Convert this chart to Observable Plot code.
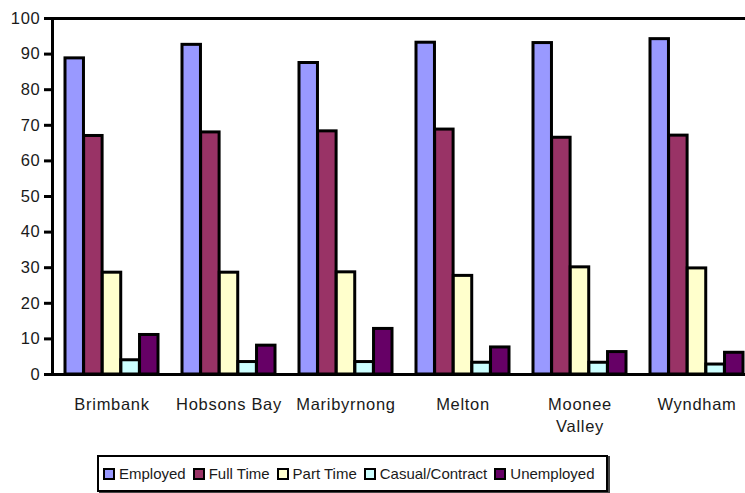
<!DOCTYPE html>
<html><head><meta charset="utf-8">
<script src="https://cdn.jsdelivr.net/npm/d3@7"></script>
<script src="https://cdn.jsdelivr.net/npm/@observablehq/plot@0.6"></script>
<style>
body{margin:0;background:#fff;font-family:"Liberation Sans",Arial,sans-serif;}
#wrap{position:relative;width:745px;height:493px;overflow:hidden;}
#legend{position:absolute;left:97px;top:455px;width:511px;height:37px;box-sizing:border-box;border:2px solid #000;box-shadow:2px 1px 0 #444;display:flex;align-items:center;padding-left:4px;font-size:15px;color:#1a1a1a;white-space:nowrap;}
.item{display:flex;align-items:center;margin-right:7px;}
.sw{width:8px;height:8px;border:2px solid #000;margin-right:4px;}
</style></head><body><div id="wrap"><div id="chart"></div><div id="legend"></div></div>
<script>
const categories = ["Brimbank","Hobsons Bay","Maribyrnong","Melton","Moonee Valley","Wyndham"];
const xLabels = ["Brimbank","Hobsons Bay","Maribyrnong","Melton","Moonee\nValley","Wyndham"];
const series = ["Employed","Full Time","Part Time","Casual/Contract","Unemployed"];
const employed   = [88.8, 92.6, 87.5, 93.2, 93.1, 94.2];
const fullTime   = [67.0, 68.0, 68.3, 68.8, 66.5, 67.1];
const partTime   = [28.6, 28.6, 28.7, 27.7, 30.1, 29.8];
const casual     = [4.0, 3.5, 3.5, 3.3, 3.3, 2.8];
const unemployed = [11.1, 8.1, 12.8, 7.6, 6.3, 6.1];
const colors = ["#9999ff","#993366","#ffffcc","#ccffff","#660066"];
const yTicks = [0,10,20,30,40,50,60,70,80,90,100];

const seriesValues = [employed, fullTime, partTime, casual, unemployed];
const rows = [];
series.forEach((s, i) => categories.forEach((c, j) => rows.push({series: s, category: c, value: seriesValues[i][j]})));

const width = 745, marginLeft = 52, marginRight = -10;
const step = (width - marginRight - marginLeft) / categories.length;
const pad = 12;
const bw = (step - 2 * pad) / series.length;

const bars = series.map((s, i) => Plot.barY(rows.filter(r => r.series === s), {
  x: "category", y: "value", fill: colors[i], stroke: "#000", strokeWidth: 3,
  insetLeft: pad + bw * i, insetRight: step - pad - bw * (i + 1)
}));

const chart = Plot.plot({
  width, height: 450,
  marginLeft, marginRight, marginTop: 18, marginBottom: 76,
  style: {fontFamily: "'Liberation Sans', Arial, sans-serif", fontSize: "16.5px", letterSpacing: "0.7px", color: "#1a1a1a", background: "#fff"},
  x: {domain: categories, padding: 0},
  y: {domain: [0, 100]},
  marks: [
    ...bars,
    Plot.ruleY([0, 100], {stroke: "#000", strokeWidth: 3}),
    Plot.frame({anchor: "left", stroke: "#000", strokeWidth: 3}),
    Plot.axisY({ticks: yTicks, tickSize: 8, tickPadding: 4, stroke: "#000", strokeWidth: 3, fill: "#1a1a1a", label: null}),
    Plot.axisX({tickSize: 0, tickPadding: 20, tickFormat: d => xLabels[categories.indexOf(d)], lineHeight: 1.32, fill: "#1a1a1a", label: null})
  ]
});
document.getElementById("chart").appendChild(chart);

const legend = document.getElementById("legend");
series.forEach((s, i) => {
  const it = document.createElement("div"); it.className = "item";
  const sw = document.createElement("span"); sw.className = "sw"; sw.style.background = colors[i];
  const t = document.createElement("span"); t.textContent = s;
  it.appendChild(sw); it.appendChild(t); legend.appendChild(it);
});
</script></body></html>
